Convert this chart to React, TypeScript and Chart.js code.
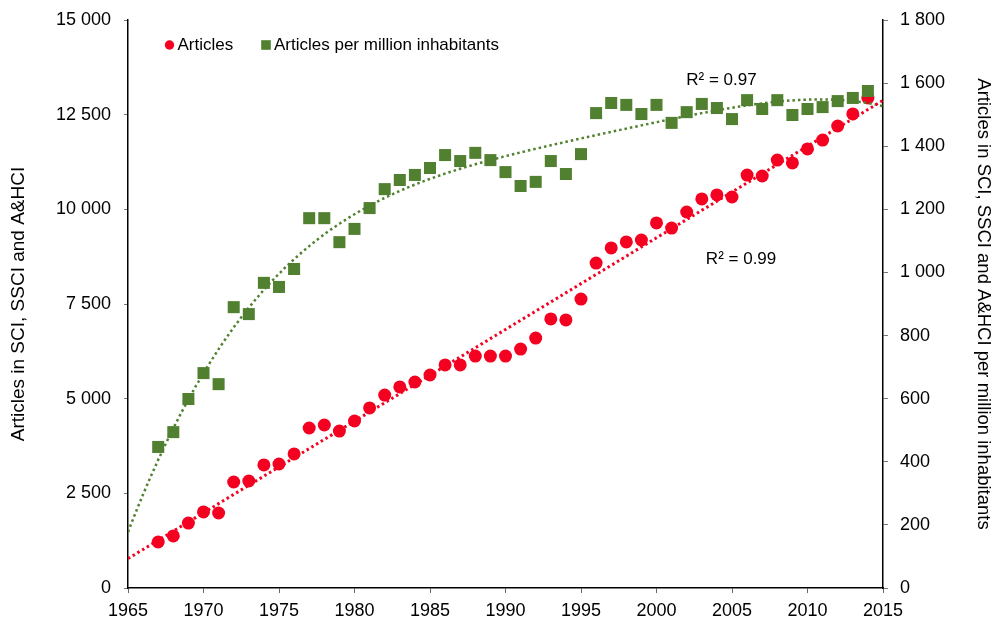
import React, { useEffect, useRef } from "react";
import { Chart, registerables } from "chart.js";

Chart.register(...registerables);

const years = [
  1967, 1968, 1969, 1970, 1971, 1972, 1973, 1974, 1975, 1976, 1977, 1978, 1979, 1980, 1981, 1982,
  1983, 1984, 1985, 1986, 1987, 1988, 1989, 1990, 1991, 1992, 1993, 1994, 1995, 1996, 1997, 1998,
  1999, 2000, 2001, 2002, 2003, 2004, 2005, 2006, 2007, 2008, 2009, 2010, 2011, 2012, 2013, 2014,
];

const articles = [
  1215, 1375, 1715, 2010, 1980, 2800, 2825, 3250, 3275, 3540, 4225, 4305, 4145, 4410, 4755, 5095,
  5310, 5440, 5625, 5890, 5890, 6125, 6125, 6125, 6310, 6600, 7105, 7080, 7630, 8580, 8980, 9140,
  9190, 9640, 9505, 9930, 10275, 10380, 10325, 10905, 10880, 11300, 11225, 11595, 11830, 12200, 12520, 12940,
];

const perMillion = [
  447, 494, 599, 681, 646, 890, 868, 967, 954, 1011, 1172, 1172, 1096, 1138, 1204, 1264,
  1293, 1309, 1331, 1372, 1353, 1379, 1356, 1318, 1274, 1287, 1353, 1312, 1375, 1505, 1537, 1531,
  1502, 1531, 1474, 1508, 1534, 1521, 1486, 1546, 1518, 1546, 1499, 1518, 1524, 1543, 1553, 1575,
];

const seriesNames = ["Articles", "Articles per million inhabitants"];
const r2Labels = ["R² = 0.99", "R² = 0.97"];
const leftTitle = "Articles in SCI, SSCI and A&HCI";
const rightTitle = "Articles in SCI, SSCI and A&HCI per million inhabitants";

const RED = "rgb(244, 0, 32)";
const GREEN = "rgb(80, 128, 48)";
const FONT = '"Liberation Sans", Arial, Helvetica, sans-serif';

function polyfit(xs: number[], ys: number[], deg: number): number[] {
  const n = deg + 1;
  const A: number[][] = Array.from({ length: n }, () => new Array(n + 1).fill(0));
  for (let i = 0; i < xs.length; i++) {
    const pw: number[] = [];
    for (let k = 0; k <= 2 * deg; k++) pw.push(Math.pow(xs[i], k));
    for (let r = 0; r < n; r++) {
      for (let c = 0; c < n; c++) A[r][c] += pw[r + c];
      A[r][n] += ys[i] * pw[r];
    }
  }
  for (let col = 0; col < n; col++) {
    let piv = col;
    for (let r = col + 1; r < n; r++) if (Math.abs(A[r][col]) > Math.abs(A[piv][col])) piv = r;
    const tmp = A[col];
    A[col] = A[piv];
    A[piv] = tmp;
    for (let r = 0; r < n; r++) {
      if (r === col) continue;
      const f = A[r][col] / A[col][col];
      for (let c = col; c <= n; c++) A[r][c] -= f * A[col][c];
    }
  }
  return A.map((row, i) => row[n] / row[i]);
}

const evalPoly = (coef: number[], t: number) => coef.reduce((s, c, k) => s + c * Math.pow(t, k), 0);
const scaleT = (y: number) => (y - 1990) / 10;

function trend(values: number[], deg: number) {
  const coef = polyfit(years.map(scaleT), values, deg);
  const pts: { x: number; y: number }[] = [];
  for (let y = 1965; y <= 2015.001; y += 0.5) pts.push({ x: y, y: evalPoly(coef, scaleT(y)) });
  return pts;
}

const fmt = (v: number) => {
  const s = String(Math.round(v));
  return s.replace(/\B(?=(\d{3})+(?!\d))/g, " ");
};

const overlayPlugin = {
  id: "overlay",
  afterDatasetsDraw(chart: any) {
    const { ctx, chartArea, scales } = chart;
    ctx.save();
    ctx.textBaseline = "middle";
    ctx.font = `17px ${FONT}`;
    const ly = chartArea.top + 25;
    const cx = chartArea.left + 41.5;
    ctx.fillStyle = RED;
    ctx.beginPath();
    ctx.arc(cx, ly, 4.7, 0, Math.PI * 2);
    ctx.fill();
    ctx.fillStyle = "#000";
    ctx.textAlign = "left";
    ctx.fillText(seriesNames[0], cx + 8, ly);
    const sx = chartArea.left + 138;
    ctx.fillStyle = GREEN;
    ctx.fillRect(sx - 4.8, ly - 4.8, 9.6, 9.6);
    ctx.fillStyle = "#000";
    ctx.fillText(seriesNames[1], sx + 8, ly);

    ctx.font = `17px ${FONT}`;
    ctx.textAlign = "center";
    ctx.fillText(r2Labels[1], scales.x.getPixelForValue(2004.3), scales.y.getPixelForValue(13400));
    ctx.fillText(r2Labels[0], scales.x.getPixelForValue(2005.6), scales.y.getPixelForValue(8690));
    ctx.restore();
  },
};

export default function App() {
  const ref = useRef<HTMLCanvasElement | null>(null);

  useEffect(() => {
    if (!ref.current) return;
    const chart = new Chart(ref.current, {
      type: "scatter",
      data: {
        datasets: [
          {
            type: "line",
            label: "trend1",
            data: trend(articles, 1),
            yAxisID: "y",
            borderColor: RED,
            borderWidth: 3,
            borderDash: [2.5, 3],
            pointRadius: 0,
            fill: false,
            order: 0,
          } as any,
          {
            type: "line",
            label: "trend2",
            data: trend(perMillion, 4),
            yAxisID: "y1",
            borderColor: GREEN,
            borderWidth: 2.5,
            borderDash: [2.5, 3],
            pointRadius: 0,
            fill: false,
            tension: 0,
            order: 0,
          } as any,
          {
            label: seriesNames[1],
            data: years.map((y, i) => ({ x: y, y: perMillion[i] })),
            yAxisID: "y1",
            backgroundColor: GREEN,
            borderColor: GREEN,
            pointStyle: "rect",
            pointRadius: 8.5,
            borderWidth: 0,
            order: 1,
          },
          {
            label: seriesNames[0],
            data: years.map((y, i) => ({ x: y, y: articles[i] })),
            yAxisID: "y",
            backgroundColor: RED,
            borderColor: RED,
            pointStyle: "circle",
            pointRadius: 6.5,
            borderWidth: 0,
            order: 2,
          },
        ],
      },
      options: {
        animation: false,
        responsive: false,
        devicePixelRatio: 1,
        layout: { padding: { top: 20, left: 0, right: 0, bottom: 0 }, autoPadding: false },
        plugins: { legend: { display: false }, tooltip: { enabled: false } },
        scales: {
          x: {
            type: "linear",
            min: 1965,
            max: 2015,
            ticks: { stepSize: 5, color: "#000", font: { family: FONT, size: 18 }, padding: 7, callback: (v: any) => String(v) },
            grid: { drawOnChartArea: false, color: "#666", tickLength: 5 },
            border: { color: "#000", width: 1.5 },
            afterFit: (s: any) => { s.height = 34; s.paddingLeft = 0; s.paddingRight = 0; },
          },
          y: {
            position: "left",
            min: 0,
            max: 15000,
            ticks: { stepSize: 2500, color: "#000", font: { family: FONT, size: 18 }, padding: 13, callback: (v: any) => fmt(v) },
            grid: { drawOnChartArea: false, color: "#777", tickLength: 4 },
            border: { color: "#000", width: 1.5 },
            title: { display: true, text: leftTitle, color: "#000", font: { family: FONT, size: 19 }, padding: { top: 7, bottom: 0 } },
            afterFit: (s: any) => { s.width = 128; s.paddingTop = 0; s.paddingBottom = 0; },
          },
          y1: {
            position: "right",
            min: 0,
            max: 1800,
            ticks: { stepSize: 200, color: "#000", font: { family: FONT, size: 18 }, padding: 12, callback: (v: any) => fmt(v) },
            grid: { drawOnChartArea: false, color: "#777", tickLength: 5 },
            border: { color: "#000", width: 1.5 },
            title: { display: true, text: rightTitle, color: "#000", font: { family: FONT, size: 18.5 }, padding: { top: 0, bottom: 0 } },
            afterFit: (s: any) => { s.width = 111; s.paddingTop = 0; s.paddingBottom = 0; },
          },
        },
      },
      plugins: [overlayPlugin],
    });
    return () => chart.destroy();
  }, []);

  return (
    <div style={{ position: "absolute", left: 0, top: 0, width: 994, height: 622, background: "#fff" }}>
      <canvas ref={ref} width={994} height={622} />
    </div>
  );
}
